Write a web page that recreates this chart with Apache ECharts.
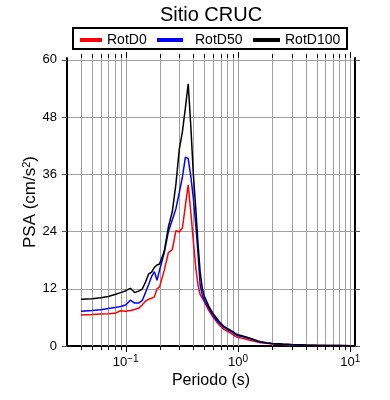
<!DOCTYPE html>
<html>
<head>
<meta charset="utf-8">
<script src="https://cdn.jsdelivr.net/npm/echarts@6/dist/echarts.min.js"></script>
<style>
  html, body { margin: 0; padding: 0; background: #fff; }
  #chart { width: 390px; height: 400px; }
</style>
</head>
<body>
<div id="chart"></div>
<script>
// Spectral periods (s) and PSA values (cm/s2)
const periods = [0.04, 0.05, 0.06, 0.07, 0.08, 0.09, 0.1, 0.11, 0.12, 0.13, 0.14, 0.15, 0.16, 0.17, 0.18, 0.19, 0.2,
    0.22, 0.24, 0.26, 0.28, 0.3, 0.32, 0.34, 0.36, 0.38, 0.4, 0.42, 0.44, 0.46, 0.48, 0.5,
    0.55, 0.6, 0.65, 0.7, 0.75, 0.8, 0.85, 0.9, 0.95, 1.0, 1.1, 1.2, 1.3, 1.4, 1.5, 1.6, 1.8, 2.0,
    2.5, 3.0, 3.5, 4.0, 5.0, 6.0, 7.0, 8.0, 9.0, 10.0];
const rotD0 = [6.5, 6.6, 6.7, 6.75, 6.85, 7.4, 7.3, 7.45, 7.65, 7.9, 8.6, 9.4, 9.8, 10.0, 10.3, 12.0, 12.4,
    15.8, 19.6, 20.2, 24.2, 23.9, 24.8, 29.5, 33.8, 28.0, 22.0, 16.5, 12.8, 10.8, 10.1, 9.3,
    7.4, 6.0, 5.0, 4.1, 3.5, 3.1, 2.8, 2.4, 2.0, 1.8, 1.6, 1.35, 1.15, 1.0, 0.85, 0.7, 0.55, 0.42,
    0.3, 0.22, 0.18, 0.15, 0.1, 0.08, 0.07, 0.06, 0.05, 0.05];
const rotD50 = [7.3, 7.45, 7.6, 7.85, 8.05, 8.3, 8.6, 9.6, 9.0, 9.0, 9.5, 11.2, 12.9, 14.6, 15.6, 13.8, 15.9,
    19.5, 24.0, 26.5, 28.8, 32.2, 35.5, 39.6, 39.3, 35.5, 31.0, 25.5, 19.5, 12.8, 10.8, 9.6,
    7.9, 6.4, 5.3, 4.5, 3.9, 3.5, 3.15, 2.8, 2.4, 2.15, 1.95, 1.7, 1.45, 1.2, 0.95, 0.8, 0.62, 0.5,
    0.35, 0.27, 0.22, 0.18, 0.13, 0.1, 0.09, 0.08, 0.07, 0.06];
const rotD100 = [9.8, 9.9, 10.1, 10.4, 10.8, 11.2, 11.6, 12.1, 11.2, 11.5, 11.9, 13.4, 15.1, 15.5, 16.5, 17.0, 17.2,
    19.8, 25.0, 28.2, 34.0, 41.3, 45.0, 50.0, 55.0, 46.0, 36.0, 29.0, 21.5, 15.5, 12.2, 10.5,
    8.3, 6.8, 5.7, 4.8, 4.1, 3.7, 3.35, 3.0, 2.6, 2.35, 2.1, 1.85, 1.6, 1.3, 1.05, 0.9, 0.7, 0.55,
    0.4, 0.3, 0.25, 0.2, 0.15, 0.12, 0.1, 0.09, 0.08, 0.07];

// Axis ticks
const xMajorTicks = [0.1, 1, 10];
const xMinorTicks = [0.04, 0.05, 0.06, 0.07, 0.08, 0.09, 0.2, 0.3, 0.4, 0.5, 0.6, 0.7, 0.8, 0.9,
    2, 3, 4, 5, 6, 7, 8, 9];
const yTicks = [0, 12, 24, 36, 48, 60];

const FONT = "Liberation Sans";
const chart = echarts.init(document.getElementById("chart"));

const pairs = arr => periods.map((t, i) => [t, arr[i]]);
const tickData = xMinorTicks.map(v => [v, 0, 0]).concat(xMajorTicks.map(v => [v, 0, 1]));

const lineSeries = (name, arr, color) => ({
    name,
    type: "line",
    data: pairs(arr),
    showSymbol: false,
    z: 3,
    lineStyle: { color, width: 1.5 },
    itemStyle: { color }
});

const legendFor = (name, left, iconW, textPad) => ({
    data: [name],
    left,
    top: 31,
    padding: 0,
    icon: "rect",
    itemWidth: iconW,
    itemHeight: 4,
    selectedMode: false,
    textStyle: { fontFamily: FONT, fontSize: 14, color: "#000", lineHeight: 18, padding: [0, 0, 0, textPad] }
});

chart.setOption({
    animation: false,
    textStyle: { fontFamily: FONT },
    graphic: [
        {
            type: "text",
            x: 211, y: 15,
            style: { text: "Sitio CRUC", fontFamily: FONT, fontSize: 20, fill: "#000", align: "center", verticalAlign: "middle" }
        },
        {
            type: "rect",
            shape: { x: 73, y: 28, width: 274, height: 21 },
            style: { fill: "#fff", stroke: "#000", lineWidth: 2 },
            z: -1
        }
    ],
    legend: [
        legendFor("RotD0", 80, 22, 0),
        legendFor("RotD50", 157, 26, 7),
        legendFor("RotD100", 253, 27, 0)
    ],
    grid: { left: 67, right: 35, top: 58, bottom: 54 },
    xAxis: [
        {
            type: "log",
            logBase: 10,
            min: 0.03,
            max: 11,
            position: "bottom",
            name: "Periodo (s)",
            nameLocation: "middle",
            nameGap: 27,
            nameMoveOverlap: false,
            nameTextStyle: { fontFamily: FONT, fontSize: 16, color: "#000" },
            axisLine: { lineStyle: { color: "#000", width: 2 } },
            axisTick: { show: false },
            splitLine: { show: false },
            axisLabel: {
                margin: 8,
                color: "#000",
                formatter: v => {
                    const l = Math.log10(v);
                    const e = Math.round(l);
                    if (Math.abs(l - e) > 1e-6) return "";
                    return "{b|10}{e|" + (e < 0 ? "\u2212" + (-e) : e) + "}";
                },
                rich: {
                    b: { fontFamily: FONT, fontSize: 13, lineHeight: 17, color: "#000" },
                    e: { fontFamily: FONT, fontSize: 10, lineHeight: 11, verticalAlign: "top", color: "#000" }
                }
            }
        },
        {
            type: "log",
            logBase: 10,
            min: 0.03,
            max: 11,
            position: "top",
            axisLine: { lineStyle: { color: "#000", width: 2 } },
            axisTick: { show: false },
            axisLabel: { show: false },
            splitLine: { show: false }
        }
    ],
    yAxis: [
        {
            type: "value",
            min: 0,
            max: 60.4,
            interval: 12,
            position: "left",
            name: "{a|PSA (cm/s}{s|2}{a|)}",
            nameLocation: "middle",
            nameGap: 27,
            nameMoveOverlap: false,
            nameTextStyle: {
                rich: {
                    a: { fontFamily: FONT, fontSize: 17, lineHeight: 19, color: "#000" },
                    s: { fontFamily: FONT, fontSize: 11, lineHeight: 12, verticalAlign: "top", color: "#000" }
                }
            },
            axisLine: { show: true, lineStyle: { color: "#000", width: 2 } },
            axisTick: { show: true, length: 5, customValues: yTicks, lineStyle: { color: "#555" } },
            axisLabel: { margin: 10, fontSize: 13, color: "#000", customValues: yTicks },
            splitLine: { show: true, lineStyle: { color: "#a0a0a0", width: 1 } }
        },
        {
            type: "value",
            min: 0,
            max: 60.4,
            interval: 12,
            position: "right",
            axisLine: { show: true, lineStyle: { color: "#000", width: 2 } },
            axisTick: { show: true, length: 5, customValues: yTicks, lineStyle: { color: "#555" } },
            axisLabel: { show: false },
            splitLine: { show: false }
        }
    ],
    series: [
        {
            type: "custom",
            silent: true,
            clip: false,
            z: 1,
            encode: { x: 0, y: 1 },
            data: tickData,
            renderItem: (params, api) => {
                const x = Math.round(api.coord([api.value(0), 0])[0]) + 0.5;
                const cs = params.coordSys;
                const top = cs.y, bottom = cs.y + cs.height;
                const len = api.value(2) ? 6 : 4;
                return {
                    type: "group",
                    children: [
                        { type: "line", shape: { x1: x, y1: top, x2: x, y2: bottom }, style: { stroke: "#a0a0a0", lineWidth: 1 } },
                        { type: "line", shape: { x1: x, y1: bottom, x2: x, y2: bottom + len }, style: { stroke: "#000", lineWidth: 1 } },
                        { type: "line", shape: { x1: x, y1: top, x2: x, y2: top - len }, style: { stroke: "#000", lineWidth: 1 } }
                    ]
                };
            }
        },
        lineSeries("RotD0", rotD0, "#ff0000"),
        lineSeries("RotD50", rotD50, "#0000ff"),
        lineSeries("RotD100", rotD100, "#000000")
    ]
});
</script>
</body>
</html>
